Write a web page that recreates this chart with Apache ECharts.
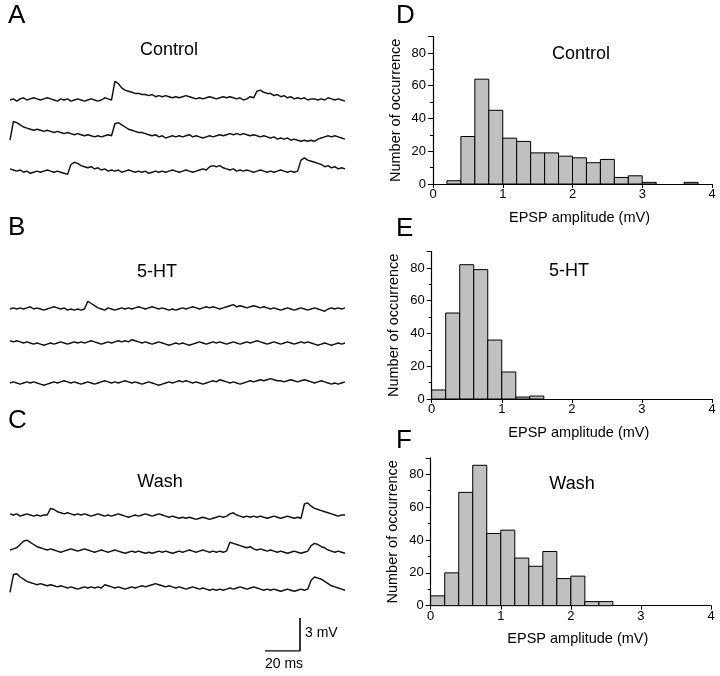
<!DOCTYPE html>
<html>
<head>
<meta charset="utf-8">
<script src="https://cdn.jsdelivr.net/npm/echarts@6/dist/echarts.min.js"></script>
<style>html,body{margin:0;padding:0;background:#fff;}#c{width:720px;height:676px;}</style>
</head>
<body>
<div id="c"></div>
<script>
// ---------- DATA ----------
const sampleStepMs = 1.93; // time between trace samples (ms)

// Panel A: Control traces (mV, relative to baseline)
const controlTrace1 = [0.0,0.1,-0.1,0.1,0.2,0.0,0.1,0.2,0.1,0.0, 0.1,0.2,0.1,0.0,-0.1,0.1,0.0,0.1,-0.1,0.0, 0.1,0.0,-0.1,0.0,0.1,0.0,-0.1,0.0,0.2,0.1, 0.0,1.7,1.5,1.1,0.9,0.8,0.7,0.6,0.6,0.5, 0.5,0.4,0.5,0.3,0.4,0.3,0.4,0.3,0.2,0.3, 0.2,0.3,0.4,0.3,0.2,0.1,0.2,0.1,0.2,0.3, 0.2,0.1,0.2,0.3,0.2,0.3,0.2,0.1,0.2,0.0, 0.1,0.3,0.2,0.8,0.9,0.7,0.6,0.6,0.4,0.5, 0.3,0.4,0.2,0.3,0.1,0.2,0.1,0.2,0.0,0.1, 0.1,0.0,0.1,0.0,0.2,0.1,0.0,0.1,0.0,-0.1];
const controlTrace2 = [-0.2,1.5,1.4,1.2,1.0,0.9,0.8,0.7,0.8,0.7, 0.6,0.7,0.6,0.5,0.6,0.5,0.4,0.5,0.4,0.3, 0.4,0.3,0.2,0.3,0.2,0.1,0.2,0.1,0.2,0.3, 0.2,1.3,1.4,1.2,1.0,0.8,0.7,0.6,0.5,0.5, 0.4,0.3,0.2,0.3,0.1,0.2,0.0,0.1,0.2,0.1, 0.2,0.1,0.2,0.3,0.1,0.2,0.1,0.0,0.1,0.2, 0.1,0.2,0.3,0.2,0.3,0.4,0.3,0.4,0.3,0.4, 0.3,0.2,0.3,0.2,0.1,0.2,0.1,0.0,0.1,-0.1, 0.0,-0.1,0.0,-0.2,-0.1,-0.2,-0.3,-0.2,-0.3,-0.2, -0.3,-0.1,0.0,0.1,0.2,0.1,0.2,0.1,0.0,-0.1];
const controlTrace3 = [0.1,0.0,-0.1,0.0,-0.2,-0.1,-0.3,-0.2,-0.1,-0.2, -0.1,0.0,-0.1,-0.2,-0.1,-0.2,-0.3,-0.4,0.5,0.7, 0.6,0.4,0.3,0.2,0.3,0.1,0.2,0.0,0.1,-0.1, 0.0,-0.1,0.0,-0.2,-0.1,0.0,-0.1,-0.2,-0.1,-0.2, -0.1,-0.3,-0.2,-0.1,-0.2,-0.1,-0.2,-0.1,0.0,-0.1, -0.2,-0.1,0.0,-0.1,-0.2,-0.1,0.0,0.1,0.0,0.3, 0.4,0.3,0.4,0.2,0.1,0.0,0.1,-0.1,0.0,-0.1, 0.0,-0.1,-0.2,-0.1,0.0,-0.1,-0.2,-0.1,-0.2,-0.1, 0.0,-0.1,-0.2,-0.1,-0.2,-0.1,0.9,1.1,0.9,0.8, 0.7,0.6,0.5,0.3,0.4,0.2,0.3,0.1,0.2,0.1];

// Panel B: 5-HT traces
const htTrace1 = [0.0,0.1,0.0,0.1,0.0,0.1,0.2,0.0,0.1,0.0, -0.1,0.0,0.1,0.2,0.1,0.0,0.1,-0.1,0.0,-0.1, 0.0,-0.1,0.0,0.7,0.5,0.3,0.1,0.0,-0.1,0.1, 0.0,-0.1,0.0,0.1,0.0,0.1,0.0,0.1,0.2,0.1, 0.0,0.1,0.2,0.1,0.0,0.1,0.0,-0.1,0.0,-0.1, 0.0,0.1,0.0,0.1,0.2,0.1,0.0,0.1,0.2,0.1, 0.2,0.1,0.0,0.1,0.2,0.3,0.4,0.2,0.3,0.2, 0.1,0.2,0.3,0.2,0.1,0.2,0.1,0.0,0.1,0.0, -0.1,0.0,0.1,0.0,-0.1,0.0,0.1,0.0,-0.1,0.0, 0.1,0.0,-0.1,-0.2,0.0,0.1,0.0,0.1,0.0,0.1];
const htTrace2 = [0.2,0.1,0.2,0.1,0.0,0.1,0.0,-0.1,0.0,-0.1, -0.2,-0.1,0.0,-0.1,0.0,0.1,0.0,-0.1,0.0,0.1, 0.0,0.1,0.0,0.1,0.2,0.1,0.0,-0.1,0.0,0.1, 0.0,0.1,0.2,0.1,0.2,0.1,0.3,0.2,0.1,0.0, 0.1,0.0,-0.1,0.0,0.1,0.0,-0.1,-0.2,-0.1,0.0, -0.1,0.0,-0.1,-0.2,-0.1,0.0,0.1,0.0,-0.1,0.0, 0.1,0.0,0.1,0.0,-0.1,0.0,0.1,0.0,-0.1,0.0, 0.1,0.0,0.1,0.2,0.1,0.0,-0.1,0.0,0.1,0.0, -0.1,0.0,0.1,0.0,-0.1,0.0,0.1,0.0,0.1,0.0, -0.1,-0.2,-0.1,0.0,-0.1,-0.2,-0.1,0.0,-0.1,0.0];
const htTrace3 = [0.0,0.1,0.0,-0.1,0.0,0.1,0.0,0.1,0.0,-0.1, -0.2,-0.1,0.0,0.1,0.0,0.1,0.2,0.1,0.0,0.1, 0.0,-0.1,0.0,0.1,0.0,-0.1,0.0,0.1,0.2,0.1, 0.0,0.1,0.0,0.1,0.2,0.1,0.0,0.1,0.0,-0.1, 0.0,0.1,0.0,-0.1,-0.2,-0.1,0.0,0.1,0.0,0.1, 0.2,0.1,0.2,0.1,0.0,0.1,0.0,-0.1,0.0,0.1, 0.2,0.1,0.3,0.2,0.1,0.0,0.1,0.0,-0.1,0.0, 0.1,0.2,0.1,0.2,0.3,0.2,0.3,0.4,0.3,0.2, 0.2,0.1,0.2,0.3,0.2,0.1,0.2,0.3,0.2,0.1, 0.0,0.1,0.2,0.1,0.0,-0.1,0.0,-0.1,0.0,0.1];

// Panel C: Wash traces
const washTrace1 = [0.1,0.0,0.1,-0.1,0.0,0.1,0.0,-0.1,0.0,-0.1, 0.0,0.0,0.6,0.5,0.3,0.2,0.1,0.2,0.1,0.0, 0.1,0.0,0.1,0.0,-0.1,0.0,0.1,0.0,-0.1,0.0, -0.1,0.0,0.1,0.0,-0.1,-0.2,-0.1,0.0,-0.1,0.0, 0.1,0.0,-0.1,0.0,0.1,0.0,-0.1,-0.2,-0.1,-0.2, -0.3,-0.2,-0.3,-0.2,-0.3,-0.4,-0.3,-0.2,-0.3,-0.4, -0.3,-0.2,-0.1,-0.2,-0.1,0.1,0.2,0.0,-0.1,-0.2, -0.1,-0.2,-0.1,-0.2,-0.1,-0.2,-0.3,-0.2,-0.1,-0.2, -0.3,-0.2,-0.1,-0.2,-0.3,-0.2,-0.3,1.0,1.1,0.8, 0.6,0.5,0.4,0.3,0.2,0.1,0.0,-0.1,0.0,0.0];
const washTrace2 = [0.0,0.1,0.2,0.5,0.8,0.9,0.7,0.5,0.3,0.2, 0.1,0.0,0.1,0.0,-0.1,-0.2,-0.1,0.0,0.1,0.0, -0.1,0.0,0.1,0.0,-0.1,-0.2,-0.1,0.0,-0.1,-0.2, -0.1,0.0,-0.1,-0.2,-0.3,-0.2,-0.1,-0.2,-0.1,-0.2, -0.3,-0.2,-0.3,-0.2,-0.1,-0.2,-0.1,-0.2,-0.3,-0.2, -0.1,-0.2,-0.1,0.0,-0.1,-0.2,-0.1,0.0,-0.1,-0.2, -0.1,-0.2,-0.1,-0.2,-0.1,0.7,0.6,0.5,0.4,0.3, 0.2,0.3,0.1,0.0,0.1,0.0,-0.1,0.0,-0.1,-0.2, -0.1,-0.2,-0.3,-0.2,-0.1,-0.2,-0.3,-0.2,-0.1,0.4, 0.6,0.5,0.3,0.2,0.0,-0.1,-0.2,-0.1,-0.2,-0.3];
const washTrace3 = [-0.4,1.2,1.3,1.0,0.8,0.6,0.5,0.4,0.3,0.4, 0.3,0.2,0.3,0.2,0.1,0.2,0.1,0.0,0.1,0.0, -0.1,0.0,0.1,0.0,0.1,0.0,0.1,0.0,0.3,0.2, 0.1,0.0,0.1,0.0,-0.1,0.0,0.1,0.0,0.1,0.2, 0.1,0.2,0.3,0.4,0.3,0.2,0.1,0.2,0.1,0.0, 0.1,0.0,-0.1,0.0,0.1,0.0,-0.1,0.0,-0.1,-0.2, -0.1,-0.2,-0.1,-0.2,-0.1,0.0,-0.1,0.0,0.1,0.0, -0.1,0.0,0.1,0.0,-0.1,-0.2,-0.1,-0.2,-0.1,-0.2, -0.3,-0.2,-0.1,-0.2,-0.3,-0.2,-0.1,-0.2,-0.1,0.7, 1.0,0.9,0.8,0.6,0.4,0.2,0.1,0.0,-0.1,-0.2];

// Scale bar (3 mV, 20 ms)
const scaleBarMv = 3;
const scaleBarMs = 20;

// Histograms: bin starts (mV), bin width, counts
const binStarts = [0,0.2,0.4,0.6,0.8,1.0,1.2,1.4,1.6,1.8,2.0,2.2,2.4,2.6,2.8,3.0,3.2,3.4,3.6,3.8];
const binWidth = 0.2;
const controlCounts = [0,2,29,64,45,28,26,19,19,17,16,13,15,4,5,1,0,0,1,0];
const htCounts      = [5.5,52.5,82,79,36,16.5,1.2,1.8,0,0,0,0,0,0,0,0,0,0,0,0];
const washCounts    = [6,20,69,85.5,44,46,29,24,33,16.5,18,2.5,2.5,0,0,0,0,0,0,0];
const xTickLabels = ['0','1','2','3','4'];
const yTickLabels = ['0','20','40','60','80'];

// ---------- CHART ----------
const FONT = "'Liberation Sans', Arial, Helvetica, sans-serif";
const chart = echarts.init(document.getElementById('c'), null, {renderer: 'canvas'});

const traces = [controlTrace1, controlTrace2, controlTrace3, htTrace1, htTrace2, htTrace3, washTrace1, washTrace2, washTrace3];
const baselinesPx = [100, 138, 170, 309, 343, 383, 515, 550, 588];
const pxPerMv = 11;
const yMin = -1.5, yMax = 2.5;
const tMax = (controlTrace1.length - 1) * sampleStepMs;

const grids = [], xAxes = [], yAxes = [], series = [];

traces.forEach((tr, i) => {
  grids.push({left: 10, width: 335, top: baselinesPx[i] - yMax * pxPerMv, height: (yMax - yMin) * pxPerMv});
  xAxes.push({gridIndex: i, type: 'value', min: 0, max: tMax, show: false});
  yAxes.push({gridIndex: i, type: 'value', min: yMin, max: yMax, show: false});
  series.push({
    type: 'line', xAxisIndex: i, yAxisIndex: i, showSymbol: false, animation: false,
    data: tr.map((v, k) => [k * sampleStepMs, v]),
    lineStyle: {color: '#111', width: 1.45}
  });
});

// scale bar grid
const sbIdx = grids.length;
grids.push({left: 10, width: 335, top: 651 - 4 * pxPerMv, height: 4 * pxPerMv});
xAxes.push({gridIndex: sbIdx, type: 'value', min: 0, max: tMax, show: false});
yAxes.push({gridIndex: sbIdx, type: 'value', min: 0, max: 4, show: false});
const sbT = 165.4;
series.push({
  type: 'line', xAxisIndex: sbIdx, yAxisIndex: sbIdx, showSymbol: false, animation: false,
  data: [[sbT, scaleBarMv], [sbT, 0], [sbT - scaleBarMs, 0]],
  lineStyle: {color: '#111', width: 1.7}
});

// histograms
const hists = [
  {counts: controlCounts, grid: {left: 433, width: 279, top: 36.6, height: 147.4}},
  {counts: htCounts,      grid: {left: 431.7, width: 280.3, top: 251.6, height: 147.4}},
  {counts: washCounts,    grid: {left: 430.7, width: 280.3, top: 457.9, height: 147.8}}
];
hists.forEach((h) => {
  const gi = grids.length;
  grids.push(h.grid);
  xAxes.push({
    gridIndex: gi, type: 'value', min: 0, max: 4, interval: 1,
    axisLine: {show: true, lineStyle: {color: '#000', width: 1.2}},
    axisTick: {show: true, length: 4, lineStyle: {color: '#000'}},
    splitLine: {show: false},
    axisLabel: {color: '#000', fontSize: 13, fontFamily: FONT, margin: 4,
      formatter: (v) => xTickLabels[Math.round(v)] || ''},
    name: 'EPSP amplitude (mV)', nameLocation: 'middle', nameGap: 26,
    nameTextStyle: {color: '#000', fontSize: 14.5, fontFamily: FONT, padding: [0, 0, 0, 14]}
  });
  yAxes.push({
    gridIndex: gi, type: 'value', min: 0, max: 90, interval: 20,
    axisLine: {show: true, lineStyle: {color: '#000', width: 1.2}},
    axisTick: {show: true, length: 5, lineStyle: {color: '#000'}},
    minorTick: {show: true, splitNumber: 2, length: 3, lineStyle: {color: '#000'}},
    splitLine: {show: false},
    axisLabel: {color: '#000', fontSize: 13, fontFamily: FONT, margin: 7, showMaxLabel: false,
      formatter: (v) => (v % 20 === 0 && v <= 80) ? yTickLabels[v / 20] : ''},
    name: 'Number of occurrence', nameLocation: 'middle', nameRotate: 90, nameGap: 30,
    nameTextStyle: {color: '#000', fontSize: 14.5, fontFamily: FONT}
  });
  series.push({
    type: 'custom', xAxisIndex: gi, yAxisIndex: gi, animation: false,
    data: binStarts.map((s, k) => [s, s + binWidth, h.counts[k]]),
    encode: {x: [0, 1], y: 2},
    renderItem: function (params, api) {
      const c = api.value(2);
      if (!c) return null;
      const p0 = api.coord([api.value(0), 0]);
      const p1 = api.coord([api.value(1), c]);
      return {
        type: 'rect',
        shape: {x: p0[0], y: p1[1], width: p1[0] - p0[0], height: p0[1] - p1[1]},
        style: {fill: '#c0c0c0', stroke: '#000', lineWidth: 1}
      };
    }
  });
});

function txt(x, y, text, size, align) {
  return {type: 'text', x: x, y: y, style: {text: text, fontSize: size, fontFamily: FONT, fill: '#000',
    align: align || 'center', verticalAlign: 'middle'}};
}

const graphics = [
  txt(8, 16, 'A', 26, 'left'), txt(8, 228, 'B', 26, 'left'), txt(8, 421, 'C', 26, 'left'),
  txt(396, 16, 'D', 26, 'left'), txt(396, 229, 'E', 26, 'left'), txt(396, 441, 'F', 26, 'left'),
  txt(169, 50, 'Control', 18), txt(157, 272, '5-HT', 18), txt(160, 482, 'Wash', 18),
  txt(581, 54, 'Control', 18), txt(569, 271, '5-HT', 18), txt(572, 484, 'Wash', 18),
  txt(305, 633, '3 mV', 14, 'left'), txt(284, 664, '20 ms', 14)
];

chart.setOption({
  animation: false,
  grid: grids, xAxis: xAxes, yAxis: yAxes, series: series,
  graphic: {elements: graphics}
});
</script>
</body>
</html>
